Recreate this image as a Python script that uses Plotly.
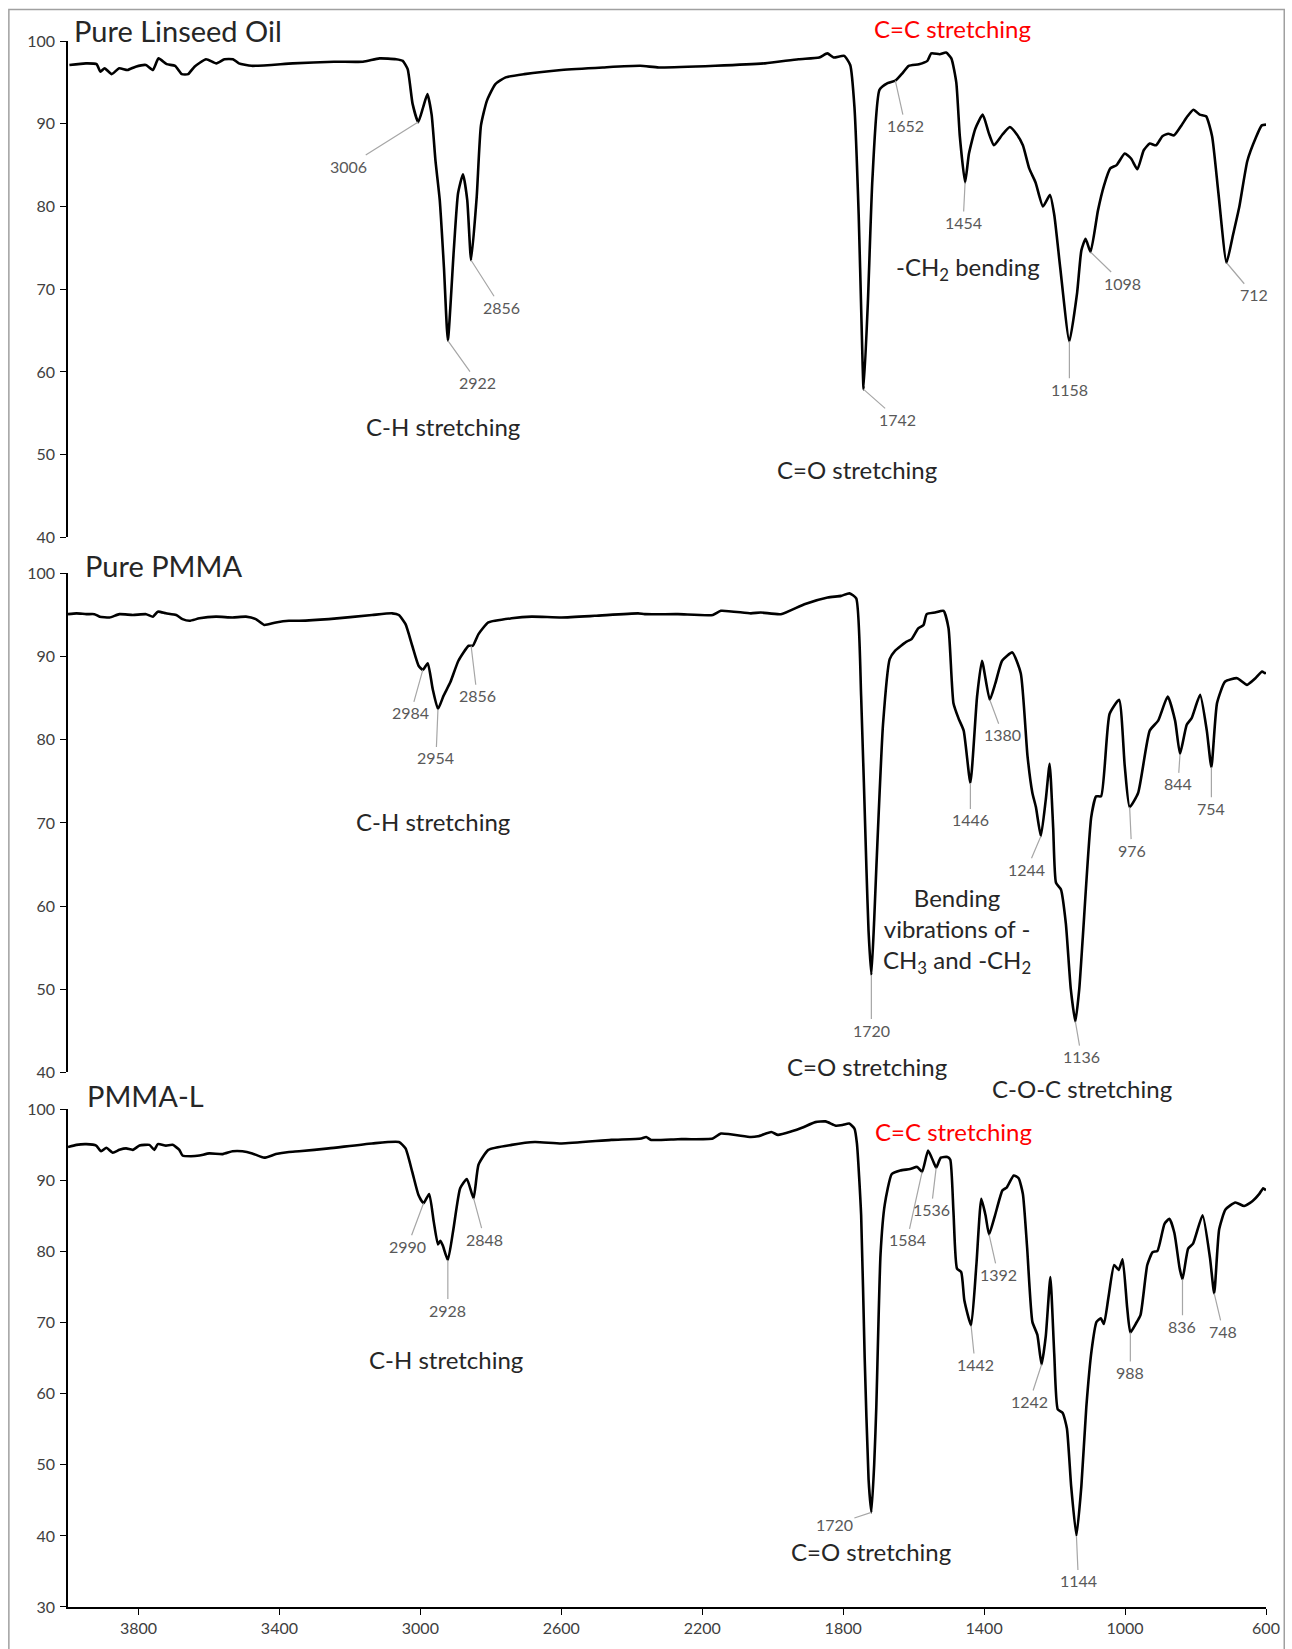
import numpy as np
import plotly.graph_objects as go

# ---------------- data ----------------
x_ticks = [3800, 3400, 3000, 2600, 2200, 1800, 1400, 1000, 600]

wn_linseed = [3996, 3949, 3919, 3908, 3896, 3876, 3855, 3831, 3808, 3779,
              3759, 3743, 3720, 3696, 3677, 3659, 3641, 3608, 3579, 3556,
              3532, 3515, 3479, 3362, 3245, 3163, 3116, 3069, 3050, 3036,
              3022, 3006, 2992, 2980, 2968, 2957, 2945, 2933, 2922, 2905,
              2893, 2879, 2867, 2856, 2840, 2828, 2811, 2787, 2758, 2705,
              2600, 2482, 2376, 2323, 2163, 2022, 1927, 1868, 1845, 1827,
              1797, 1780, 1768, 1756, 1748, 1742, 1730, 1717, 1697, 1674,
              1652, 1632, 1614, 1585, 1561, 1550, 1526, 1508, 1493, 1479,
              1469, 1454, 1443, 1425, 1404, 1387, 1372, 1348, 1327, 1307,
              1290, 1272, 1254, 1233, 1213, 1201, 1184, 1158, 1136, 1124,
              1112, 1098, 1077, 1060, 1042, 1024, 1001, 983, 965, 947,
              930, 912, 894, 877, 861, 840, 823, 806, 788, 770,
              753, 735, 712, 694, 676, 653, 629, 612, 600]
t_linseed = [97.1, 97.3, 97.2, 96.3, 96.7, 96.0, 96.7, 96.5, 96.9, 97.1,
             96.5, 97.9, 97.2, 97.0, 96.0, 96.0, 96.9, 97.8, 97.3, 97.8,
             97.8, 97.3, 97.0, 97.3, 97.5, 97.5, 97.9, 97.8, 97.6, 96.6,
             92.4, 90.2, 92.0, 93.6, 91.1, 85.5, 80.8, 72.6, 63.8, 74.8,
             81.6, 83.9, 80.8, 73.5, 81.2, 89.8, 92.8, 94.8, 95.6, 96.0,
             96.5, 96.8, 97.0, 96.8, 97.0, 97.3, 97.8, 98.0, 98.5, 98.0,
             98.2, 97.1, 92.0, 79.0, 66.1, 57.9, 68.3, 83.3, 94.1, 94.9,
             95.2, 96.1, 97.0, 97.2, 97.6, 98.5, 98.4, 98.6, 97.9, 95.0,
             88.5, 82.9, 86.4, 89.4, 91.1, 88.9, 87.4, 88.7, 89.6, 88.7,
             87.4, 84.6, 82.9, 80.0, 81.4, 79.0, 72.6, 63.7, 69.6, 74.7,
             76.1, 74.5, 79.5, 82.5, 84.6, 85.0, 86.4, 85.8, 84.5, 86.8,
             87.6, 87.4, 88.5, 88.8, 88.6, 89.8, 90.9, 91.7, 91.1, 90.9,
             88.5, 81.6, 73.2, 76.5, 79.9, 85.5, 88.3, 89.8, 89.9]

wn_pmma = [4000, 3976, 3948, 3925, 3910, 3882, 3854, 3816, 3778, 3759,
           3745, 3722, 3693, 3675, 3655, 3627, 3580, 3533, 3495, 3467,
           3443, 3410, 3373, 3344, 3260, 3137, 3080, 3061, 3042, 3023,
           3005, 2993, 2979, 2965, 2950, 2934, 2915, 2892, 2863, 2851,
           2835, 2807, 2741, 2684, 2599, 2505, 2382, 2363, 2269, 2170,
           2147, 2062, 2034, 1977, 1910, 1844, 1806, 1782, 1763, 1749,
           1734, 1728, 1720, 1712, 1706, 1687, 1668, 1653, 1620, 1606,
           1587, 1572, 1563, 1539, 1515, 1501, 1487, 1472, 1458, 1439,
           1420, 1406, 1384, 1368, 1349, 1320, 1296, 1277, 1263, 1253,
           1239, 1225, 1214, 1204, 1196, 1182, 1168, 1154, 1141, 1130,
           1120, 1096, 1082, 1068, 1044, 1017, 1001, 987, 963, 930,
           906, 879, 858, 844, 825, 811, 787, 768, 755, 739,
           716, 682, 654, 630, 611, 603, 600]
t_pmma = [95.1, 95.2, 95.1, 95.1, 94.8, 94.7, 95.1, 95.0, 95.1, 94.8,
          95.4, 95.2, 95.0, 94.5, 94.3, 94.6, 94.8, 94.7, 94.8, 94.5,
          93.8, 94.1, 94.3, 94.3, 94.5, 95.0, 95.2, 95.0, 93.9, 91.3,
          88.9, 88.4, 89.2, 86.1, 83.7, 85.3, 86.9, 89.5, 91.3, 91.3,
          92.7, 94.1, 94.6, 94.8, 94.7, 94.9, 95.2, 95.1, 95.1, 95.0,
          95.5, 95.2, 95.3, 95.1, 96.3, 97.1, 97.3, 97.6, 97.0, 85.2,
          64.5, 57.0, 51.7, 58.3, 64.5, 81.8, 89.7, 90.7, 91.8, 92.1,
          93.4, 93.8, 95.1, 95.3, 95.5, 93.4, 84.4, 82.5, 81.1, 74.8,
          85.2, 89.5, 84.8, 86.8, 89.5, 90.5, 88.0, 78.1, 73.6, 71.9,
          68.4, 72.8, 77.1, 69.4, 62.8, 62.0, 57.9, 50.0, 46.1, 50.0,
          56.2, 70.7, 73.2, 73.2, 83.1, 84.8, 76.9, 71.9, 73.6, 81.1,
          82.3, 85.2, 82.3, 78.3, 81.8, 82.6, 85.4, 81.1, 76.7, 84.4,
          87.0, 87.4, 86.6, 87.4, 88.2, 88.0, 88.1]

wn_pmma_l = [4000, 3976, 3948, 3920, 3906, 3891, 3873, 3854, 3835, 3816,
             3797, 3769, 3755, 3745, 3722, 3703, 3684, 3675, 3651, 3627,
             3599, 3561, 3533, 3505, 3477, 3443, 3410, 3373, 3344, 3260,
             3137, 3061, 3042, 3023, 3005, 2991, 2975, 2962, 2950, 2943,
             2936, 2922, 2906, 2887, 2868, 2849, 2835, 2807, 2741, 2675,
             2599, 2458, 2373, 2359, 2345, 2269, 2170, 2147, 2062, 2042,
             2004, 1985, 1946, 1917, 1879, 1850, 1821, 1802, 1783, 1768,
             1761, 1749, 1739, 1728, 1720, 1712, 1706, 1694, 1682, 1662,
             1638, 1610, 1590, 1576, 1559, 1542, 1536, 1523, 1504, 1496,
             1487, 1477, 1465, 1456, 1437, 1422, 1408, 1396, 1386, 1369,
             1348, 1336, 1316, 1302, 1290, 1278, 1263, 1249, 1237, 1225,
             1212, 1201, 1191, 1177, 1165, 1153, 1138, 1124, 1110, 1095,
             1081, 1069, 1060, 1047, 1031, 1018, 1007, 994, 985, 970,
             956, 937, 922, 908, 888, 874, 860, 845, 837, 821,
             807, 780, 759, 747, 733, 715, 687, 662, 638, 619,
             608, 600]
t_pmma_l = [94.7, 95.0, 95.1, 94.9, 94.1, 94.6, 93.9, 94.3, 94.5, 94.3,
            94.9, 95.0, 94.3, 95.1, 94.9, 95.0, 94.3, 93.5, 93.4, 93.5,
            93.8, 93.7, 94.1, 94.1, 93.8, 93.2, 93.7, 94.0, 94.1, 94.5,
            95.2, 95.4, 94.5, 91.2, 87.9, 86.8, 88.1, 84.2, 81.0, 81.5,
            80.8, 78.8, 83.2, 88.9, 90.2, 87.5, 92.2, 94.3, 95.0, 95.4,
            95.2, 95.7, 95.9, 96.1, 95.7, 95.8, 95.9, 96.6, 96.1, 96.2,
            96.8, 96.4, 96.9, 97.4, 98.2, 98.3, 97.7, 97.8, 98.0, 97.3,
            95.2, 85.1, 65.1, 48.0, 43.3, 50.0, 58.1, 79.6, 86.6, 90.9,
            91.4, 91.6, 91.9, 91.2, 94.2, 92.4, 91.8, 93.2, 93.3, 92.9,
            85.6, 77.6, 77.1, 73.1, 69.6, 78.1, 87.4, 85.1, 82.4, 85.1,
            88.6, 89.0, 90.7, 90.3, 88.1, 80.6, 70.1, 68.3, 64.1, 68.1,
            76.4, 65.6, 57.8, 57.3, 55.1, 47.0, 40.0, 47.0, 58.1, 66.1,
            70.1, 70.6, 69.8, 73.6, 78.1, 77.4, 78.9, 72.1, 68.6, 69.8,
            71.1, 78.1, 79.9, 80.1, 83.9, 84.6, 82.6, 77.6, 76.1, 80.4,
            81.1, 85.1, 79.1, 74.1, 83.1, 85.9, 86.9, 86.4, 87.1, 88.1,
            88.9, 88.6]

# peak labels ; mode 'min' = nearest local minimum of the curve, 'at' = on the curve
peaks_linseed = [3006, 2922, 2856, 1742, 1652, 1454, 1158, 1098, 712]
modes_linseed = ['min', 'min', 'min', 'min', 'at', 'min', 'min', 'min', 'min']
peaks_pmma = [2984, 2954, 2856, 1720, 1446, 1380, 1244, 1136, 976, 844, 754]
modes_pmma = ['min', 'min', 'at', 'min', 'min', 'min', 'min', 'min', 'min', 'min', 'min']
peaks_pmma_l = [2990, 2928, 2848, 1720, 1584, 1536, 1442, 1392, 1242, 1144, 988, 836, 748]
modes_pmma_l = ['min'] * 13

# label offsets (pixels, text centre relative to the marked point)
off_linseed = [(-70, 44), (30, 42), (30, 47), (34, 30), (10, 45), (-2, 40), (0, 48), (32, 31), (27, 32)]
off_pmma = [(-12, 43), (-2, 49), (6, 50), (0, 55), (0, 37), (13, 35), (-14, 33), (6, 35), (2, 43), (-2, 30), (0, 41)]
off_pmma_l = [(-16, 43), (0, 50), (11, 41), (-37, 12), (-15, 68), (-5, 42), (4, 39), (9, 40), (-12, 37),
              (2, 45), (0, 40), (0, 47), (9, 38)]

# ---------------- layout geometry (pixels) ----------------
W, H = 1292, 1649
L, R, T, B = 68.3, 1269.7, 40.5, 1609.7


def px(x):
    return (x - L) / (R - L)


def py(y):
    return (B - y) / (B - T)


FONT = "Lato, 'Open Sans', sans-serif"
TXT = '#262626'
LBL = '#595959'

fig = go.Figure()
line_style = dict(color='black', width=2.6, shape='spline', smoothing=0.5)
fig.add_trace(go.Scatter(x=wn_linseed, y=t_linseed, mode='lines', line=line_style,
                         xaxis='x', yaxis='y', showlegend=False, hoverinfo='x+y'))
fig.add_trace(go.Scatter(x=wn_pmma, y=t_pmma, mode='lines', line=line_style,
                         xaxis='x', yaxis='y2', showlegend=False, hoverinfo='x+y'))
fig.add_trace(go.Scatter(x=wn_pmma_l, y=t_pmma_l, mode='lines', line=line_style,
                         xaxis='x', yaxis='y3', showlegend=False, hoverinfo='x+y'))


def anchor_point(wn, t, target, mode):
    wn = np.asarray(wn, float)
    t = np.asarray(t, float)
    if mode == 'at':
        return target, float(np.interp(target, wn[::-1], t[::-1]))
    idx = [i for i in range(1, len(t) - 1) if t[i] < t[i - 1] and t[i] < t[i + 1]]
    best = min(idx, key=lambda i: abs(wn[i] - target))
    return float(wn[best]), float(t[best])


annotations = []
for wn, t, peaks, modes, offs, yref in [
        (wn_linseed, t_linseed, peaks_linseed, modes_linseed, off_linseed, 'y'),
        (wn_pmma, t_pmma, peaks_pmma, modes_pmma, off_pmma, 'y2'),
        (wn_pmma_l, t_pmma_l, peaks_pmma_l, modes_pmma_l, off_pmma_l, 'y3')]:
    for p, m, (ax, ay) in zip(peaks, modes, offs):
        xa, ya = anchor_point(wn, t, p, m)
        annotations.append(dict(x=xa, y=ya, xref='x', yref=yref, text=str(p),
                                showarrow=True, arrowhead=0, arrowwidth=1.2,
                                arrowcolor='#a6a6a6', ax=ax, ay=ay, standoff=0,
                                font=dict(family=FONT, size=16, color=LBL)))

# panel titles
for text, x0, yc in [("Pure Linseed Oil", 72, 30), ("Pure PMMA", 83, 566), ("PMMA-L", 85, 1097)]:
    annotations.append(dict(x=px(x0), y=py(yc), xref='paper', yref='paper', text=text,
                            showarrow=False, xanchor='left', yanchor='middle',
                            font=dict(family=FONT, size=29, color=TXT)))

# band assignments
bands = [
    ("C-H stretching", 444, 427, TXT),
    ("C=O stretching", 860, 470, TXT),
    ("-CH<sub>2</sub> bending", 971, 268, TXT),
    ("C=C stretching", 955, 28, '#ff0000'),
    ("C-H stretching", 434, 823, TXT),
    ("Bending<br>vibrations of -<br>CH<sub>3</sub> and -CH<sub>2</sub>", 960, 932, TXT),
    ("C=O stretching", 870, 1068, TXT),
    ("C-O-C stretching", 1085, 1090, TXT),
    ("C-H stretching", 447, 1362, TXT),
    ("C=C stretching", 956, 1133, '#ff0000'),
    ("C=O stretching", 874, 1554, TXT),
]
for text, x0, y0, col in bands:
    annotations.append(dict(x=px(x0), y=py(y0), xref='paper', yref='paper', text=text,
                            showarrow=False, xanchor='center', yanchor='middle',
                            font=dict(family=FONT, size=24, color=col)))

yax_common = dict(showline=True, linecolor='black', linewidth=1.5, ticks='outside', ticklen=6,
                  tickcolor='black', tickwidth=1.3, showgrid=False, zeroline=False, anchor='x',
                  dtick=10, tickfont=dict(family=FONT, size=16, color='#404040'), ticklabelstandoff=2)

fig.update_layout(
    width=W, height=H,
    margin=dict(l=L, r=W - R, t=T, b=H - B, pad=0),
    paper_bgcolor='white', plot_bgcolor='white',
    showlegend=False,
    xaxis=dict(range=[4000, 600], domain=[0, 1], anchor='y3', tickvals=x_ticks,
               ticks='outside', ticklen=6, tickcolor='black', tickwidth=1.3,
               showline=True, linecolor='black', linewidth=1.5, showgrid=False, zeroline=False,
               tickfont=dict(family=FONT, size=16, color='#404040')),
    yaxis=dict(domain=[py(538), 1.0], range=[40, 100], tick0=40, **yax_common),
    yaxis2=dict(domain=[py(1074), py(574)], range=[40, 100], tick0=40, **yax_common),
    yaxis3=dict(domain=[0.0, py(1111)], range=[30, 100], tick0=30, **yax_common),
    annotations=annotations,
    shapes=[dict(type='rect', xref='paper', yref='paper', x0=px(9), x1=px(1288),
                 y0=py(1660), y1=py(9), line=dict(color='#a0a0a0', width=1.5),
                 fillcolor='rgba(0,0,0,0)', layer='below')],
)

fig.write_html("out.html")
